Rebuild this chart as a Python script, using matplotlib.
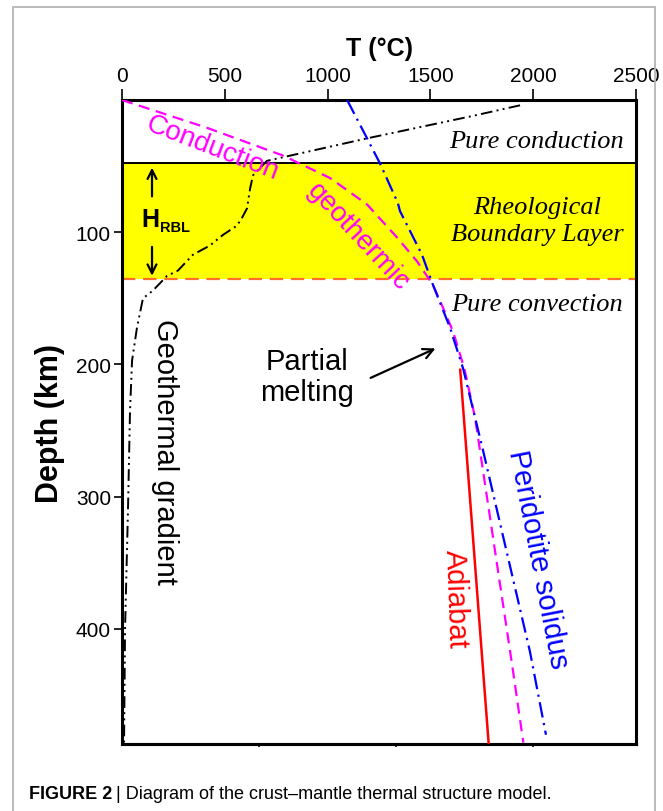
import numpy as np
import matplotlib.pyplot as plt
from matplotlib.patches import Rectangle

plt.rcParams['font.family'] = ['Liberation Sans', 'DejaVu Sans']

# temperature (C) / depth (km)
geo_T = [1936, 1707, 1192, 705, 637, 623, 608, 584, 559, 491, 428, 345, 272, 219, 151, 102, 73, 49, 39, 29, 15, 10]
geo_d = [4, 12, 29, 46, 57, 67, 82, 89, 95, 102, 110, 117, 129, 133, 144, 150, 172, 197, 235, 311, 399, 486]

cond_T = [0, 413, 783, 1012, 1192, 1338, 1435, 1513, 1561, 1610, 1665, 1717, 1902, 1952]
cond_d = [0, 21, 42, 59, 79, 104, 122, 140, 157, 175, 203, 240, 432, 486]

sol_T = [1095, 1172, 1255, 1342, 1352, 1459, 1513, 1595, 1659, 1756, 1984, 2062]
sol_d = [0, 23, 48, 78, 84, 117, 140, 172, 203, 265, 417, 480]

adi_T = [1645, 1783]
adi_d = [204, 486]

lid_base = 48      # base of pure conduction layer
rbl_base = 135.5   # base of rheological boundary layer

x_ticks = [0, 500, 1000, 1500, 2000, 2500]
y_ticks = [100, 200, 300, 400]
bottom_ticks = [2000 / 3, 4000 / 3, 2000]

fig = plt.figure(figsize=(6.63, 8.12), dpi=100)
fig.patches.append(Rectangle((0.0196, -0.05), 0.968, 1.04, transform=fig.transFigure,
                             fill=False, ec='#b5b5b5', lw=1.3))

ax = fig.add_axes([0.184, 0.0825, 0.7753, 0.7931])
ax.set_xlim(0, 2500)
ax.set_ylim(487, 0)

ax.axhspan(lid_base, rbl_base, color='#ffff00', lw=0, zorder=0)
ax.axhline(lid_base, color='black', lw=1.4, zorder=1)
ax.axhline(rbl_base, color='#ff6e2a', lw=1.6, dashes=(6, 3.5), zorder=1)

ax.plot(geo_T, geo_d, color='black', lw=1.4, dashes=(6, 2.2, 1, 2.2, 1, 2.2), zorder=3)
ax.plot(cond_T, cond_d, color='#ff00ff', lw=1.6, dashes=(5, 3), zorder=3)
ax.plot(sol_T, sol_d, color='#0000ff', lw=1.6, dashes=(7, 2.5, 1, 2.5), zorder=4)
ax.plot(adi_T, adi_d, color='#ff0000', lw=1.8, zorder=3)

for s in ax.spines.values():
    s.set_linewidth(2.2)

ax.xaxis.tick_top()
ax.xaxis.set_label_position('top')
ax.set_xticks(x_ticks)
ax.set_yticks(y_ticks)
ax.tick_params(axis='x', direction='out', length=8, width=1.2, labelsize=15, pad=3)
ax.tick_params(axis='y', direction='out', length=6, width=1.2, labelsize=15, pad=2)
ax.set_xlabel('T (°C)', fontsize=18, fontweight='bold', labelpad=8)
ax.set_ylabel('Depth (km)', fontsize=22, fontweight='bold', labelpad=8)

sec = ax.secondary_xaxis('bottom')
sec.set_xticks(bottom_ticks)
sec.set_xticklabels([])
sec.tick_params(direction='out', length=2.5, width=1.2)
sec.spines['bottom'].set_linewidth(2.2)

serif = ['Liberation Serif', 'DejaVu Serif']
ax.text(2018, 31, 'Pure conduction', family=serif, style='italic', fontsize=19, ha='center', va='center')
ax.text(2018, 91, 'Rheological\nBoundary Layer', family=serif, style='italic', fontsize=19,
        ha='center', va='center', linespacing=1.3)
ax.text(2018, 154, 'Pure convection', family=serif, style='italic', fontsize=19, ha='center', va='center')

# H_RBL with arrows
ax.text(95, 95.5, 'H', fontsize=18, fontweight='bold', ha='left', va='baseline')
ax.text(185, 99, 'RBL', fontsize=10.5, fontweight='bold', ha='left', va='baseline')
ax.annotate('', xy=(146, 49), xytext=(146, 75),
            arrowprops=dict(arrowstyle='->', color='black', lw=1.6, mutation_scale=16))
ax.annotate('', xy=(146, 135), xytext=(146, 109),
            arrowprops=dict(arrowstyle='->', color='black', lw=1.6, mutation_scale=16))

ax.text(438, 36, 'Conduction', color='#ff00ff', fontsize=20, rotation=-21, ha='center', va='center',
        rotation_mode='anchor')
ax.text(1148, 103, 'geothermic', color='#ff00ff', fontsize=20, rotation=-47, ha='center', va='center',
        rotation_mode='anchor')

ax.text(900, 209, 'Partial\nmelting', fontsize=21, ha='center', va='center', linespacing=1.15)
ax.annotate('', xy=(1537, 187), xytext=(1197, 211),
            arrowprops=dict(arrowstyle='->', color='black', lw=1.6, mutation_scale=18))

ax.text(209, 265, 'Geothermal gradient', fontsize=21, rotation=-90, ha='center', va='center')
ax.text(2022, 347, 'Peridotite solidus', color='#0000ff', fontsize=21, rotation=-79,
        ha='center', va='center', rotation_mode='anchor')
ax.text(1625, 377, 'Adiabat', color='#ff0000', fontsize=21, rotation=-88,
        ha='center', va='center', rotation_mode='anchor')

# caption
narrow = ['Liberation Sans Narrow', 'Liberation Sans', 'DejaVu Sans']
t1 = fig.text(29 / 663, 1 - 795 / 812, 'FIGURE 2', family=narrow, fontweight='bold', fontsize=13, va='center')
fig.canvas.draw()
bb = t1.get_window_extent()
fig.text(bb.x1 / 663 + 0.006, 1 - 795 / 812, '| Diagram of the crust\u2013mantle thermal structure model.',
         family=narrow, fontsize=13, va='center')

fig.savefig('out.png', dpi=100)
